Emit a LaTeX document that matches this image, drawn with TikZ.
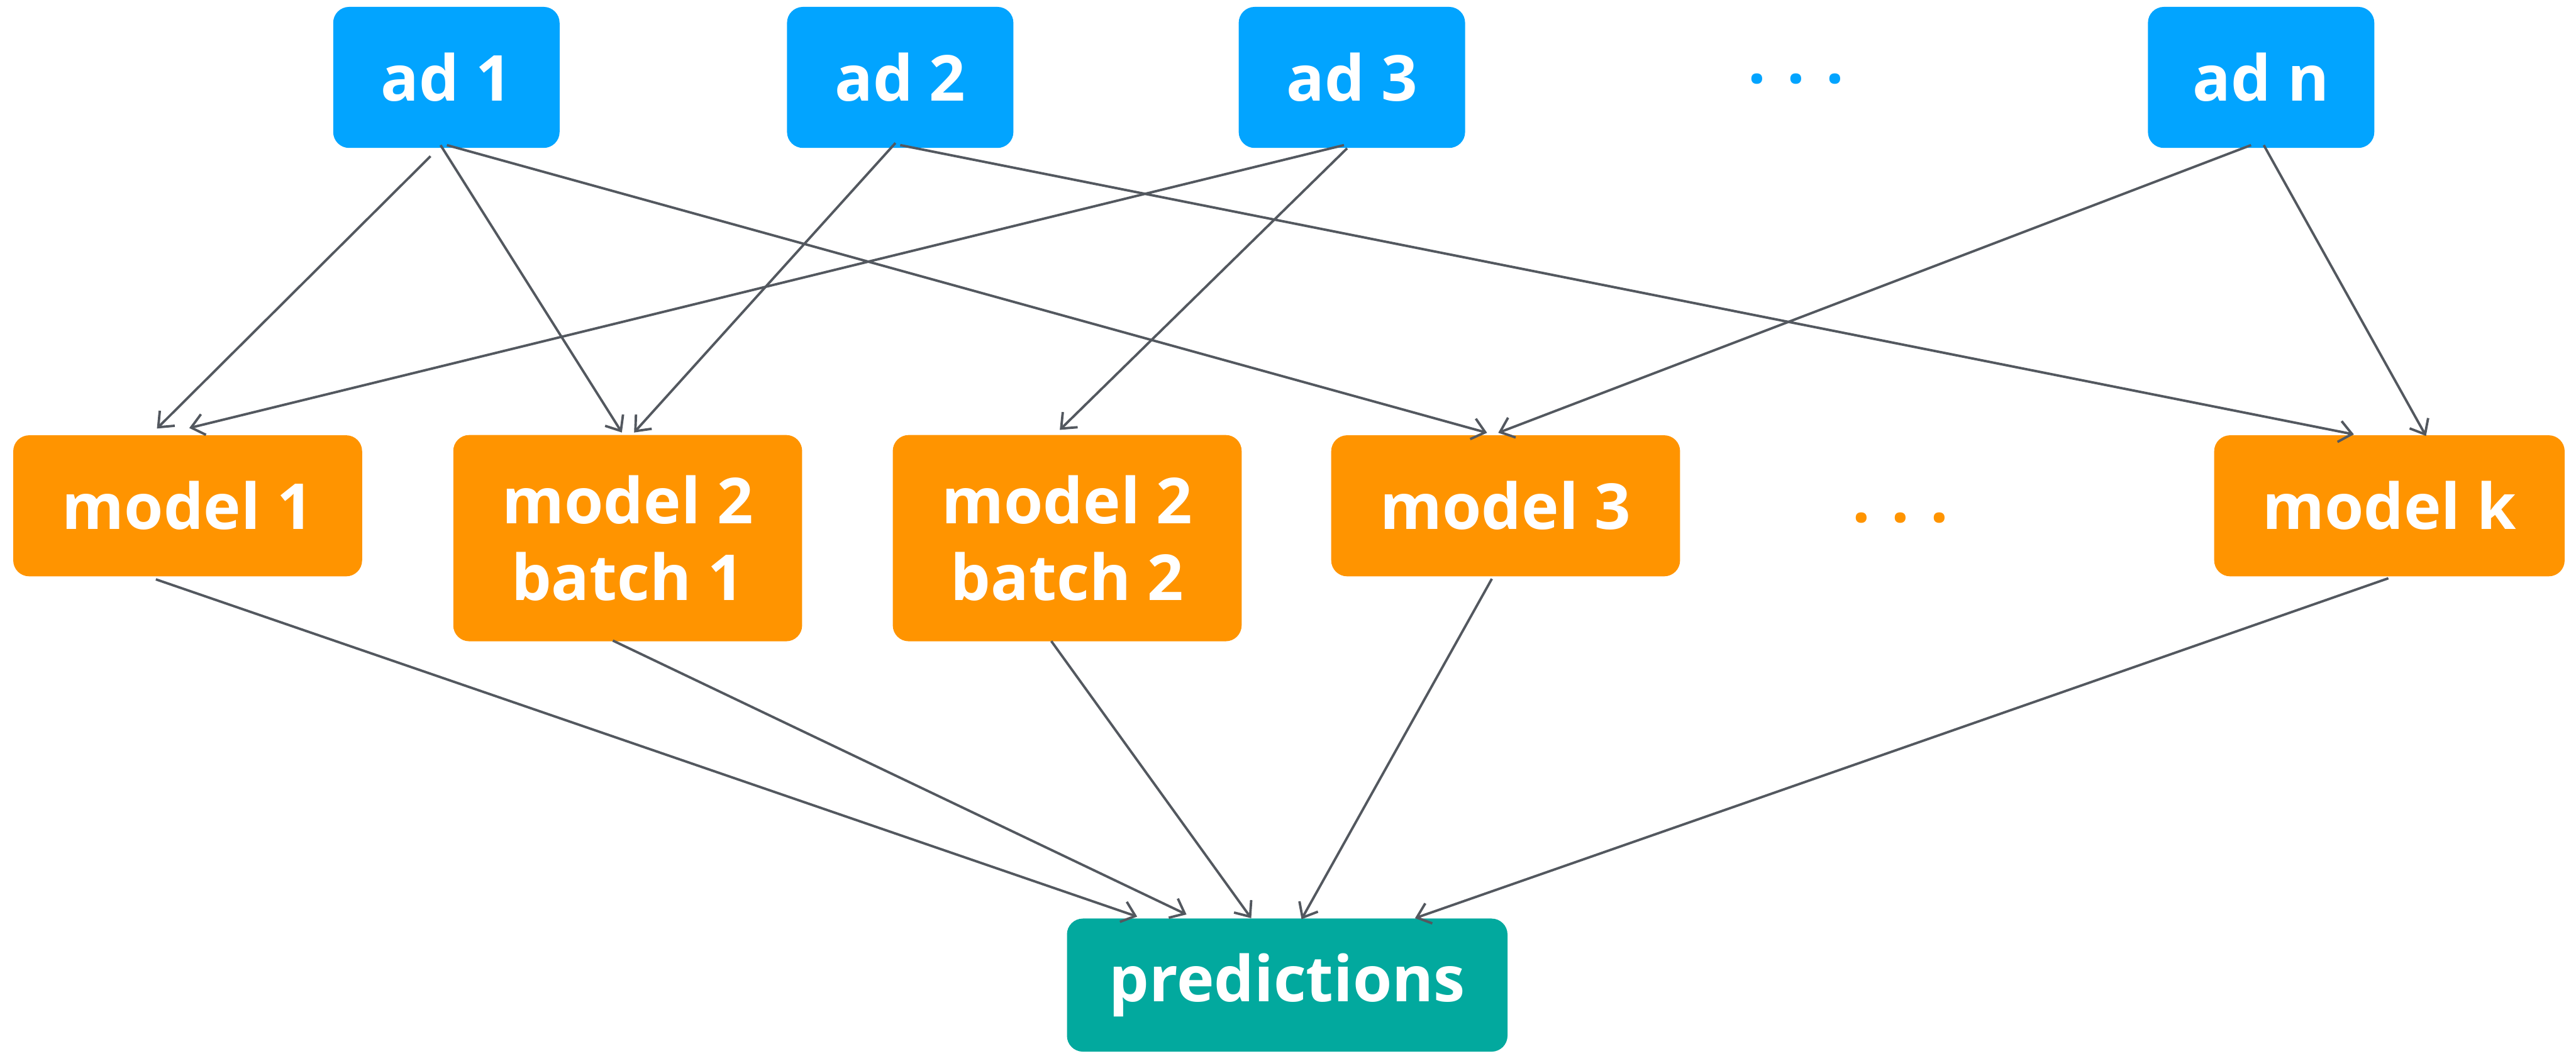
\documentclass[tikz,border=0pt]{standalone}
\usepackage{fontspec}
\setmainfont{Open Sans}
\usepackage{xcolor}
\usetikzlibrary{arrows.meta,positioning,calc}
\definecolor{adblue}{RGB}{2,164,255}
\definecolor{modelorange}{RGB}{255,148,0}
\definecolor{predteal}{RGB}{2,169,158}
\definecolor{arrowgray}{RGB}{83,88,95}

\begin{document}
\begin{tikzpicture}[
    box/.style={rounded corners=0.3cm, minimum height=2.66cm, align=center, text=white, inner sep=0pt,
        font=\fontsize{34}{41}\selectfont\bfseries},
    adbox/.style={box, fill=adblue, minimum width=4.27cm},
    modelbox/.style={box, fill=modelorange, minimum width=6.58cm},
    dots/.style={font=\fontsize{34}{41}\selectfont\bfseries},
    arrow/.style={-{Straight Barb[length=0.24cm,width=0.4cm]}, line width=1.3pt, arrowgray}
]
    \useasboundingbox (0,0) rectangle (48.59,-19.91);

    % Ads
    \node[adbox] (ad1) at (8.42,-1.46) {ad 1};
    \node[adbox] (ad2) at (16.98,-1.46) {ad 2};
    \node[adbox] (ad3) at (25.50,-1.46) {ad 3};
    \node[dots, text=adblue] (addots) at (33.88,-1.49) {.\,\,.\,\,.};
    \node[adbox] (adn) at (42.65,-1.46) {ad n};

    % Models
    \node[modelbox] (model1) at (3.54,-9.54) {model 1};
    \node[modelbox, minimum height=3.89cm] (model2a) at (11.84,-10.15) {model 2\\batch 1};
    \node[modelbox, minimum height=3.89cm] (model2b) at (20.13,-10.15) {model 2\\batch 2};
    \node[modelbox] (model3) at (28.40,-9.54) {model 3};
    \node[dots, text=modelorange] (modeldots) at (35.85,-9.77) {.\,\,.\,\,.};
    \node[modelbox, minimum width=6.61cm] (modelk) at (45.07,-9.54) {model k};

    % Predictions
    \node[box, fill=predteal, minimum width=8.31cm, minimum height=2.51cm] (pred) at (24.28,-18.58) {predictions};

    % Ads to models
    \draw[arrow] ($(ad1.south)+(-0.30,-0.15)$) -- ($(model1.north)+(-0.58,0.12)$);
    \draw[arrow] ($(ad1.south)+(-0.11,0.06)$) -- ($(model2a.north)+(-0.11,0.04)$);
    \draw[arrow] ($(ad1.south)+(0.01,0.06)$) -- ($(model3.north)+(-0.35,0.04)$);
    \draw[arrow] ($(ad2.south)+(-0.09,0.10)$) -- ($(model2a.north)+(0.12,0.04)$);
    \draw[arrow] ($(ad2.south)+(0.00,0.06)$) -- ($(modelk.north)+(-0.67,0.01)$);
    \draw[arrow] ($(ad3.south)+(-0.15,0.06)$) -- ($(model1.north)+(0.03,0.13)$);
    \draw[arrow] ($(ad3.south)+(-0.09,0.00)$) -- ($(model2b.north)+(-0.14,0.09)$);
    \draw[arrow] ($(adn.south)+(-0.19,0.06)$) -- ($(model3.north)+(-0.14,0.04)$);
    \draw[arrow] ($(adn.south)+(0.05,0.06)$) -- ($(modelk.north)+(0.69,-0.02)$);

    % Models to predictions
    \draw[arrow] ($(model1.south)+(-0.60,-0.05)$) -- ($(pred.north)+(-2.83,0.03)$);
    \draw[arrow] ($(model2a.south)+(-0.28,0.02)$) -- ($(pred.north)+(-1.90,0.07)$);
    \draw[arrow] ($(model2b.south)+(-0.30,0.01)$) -- ($(pred.north)+(-0.68,0.00)$);
    \draw[arrow] ($(model3.south)+(-0.26,-0.04)$) -- ($(pred.north)+(0.27,-0.02)$);
    \draw[arrow] ($(modelk.south)+(-0.02,-0.03)$) -- ($(pred.north)+(2.41,0.00)$);
\end{tikzpicture}
\end{document}
